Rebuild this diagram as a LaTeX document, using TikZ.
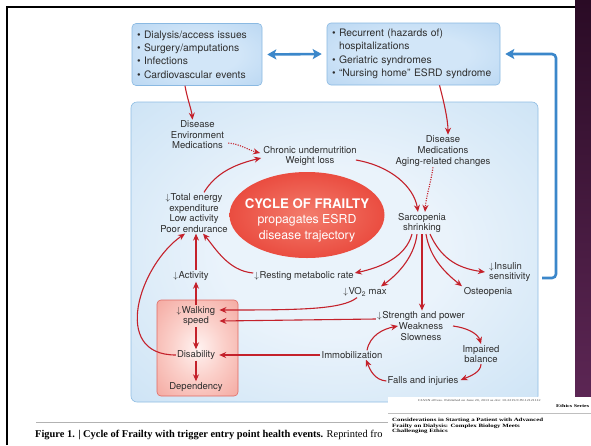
\documentclass[tikz,border=0pt]{standalone}
\usepackage{fontspec}
\setmainfont{TeX Gyre Heros}
\newfontfamily\capfont{Liberation Serif}
\newfontfamily\pagefont[FakeStretch=1.4]{Liberation Serif}
\usepackage{xcolor}
\usetikzlibrary{shapes.geometric,arrows.meta,positioning}

\definecolor{txtgray}{HTML}{2E2E2E}
\definecolor{arrred}{HTML}{C4212B}
\definecolor{arrblue}{HTML}{3B87CA}
\definecolor{topedge}{HTML}{8AB9E2}
\definecolor{mainedge}{HTML}{8FBDE3}
\definecolor{pinkedge}{HTML}{E06A63}
\definecolor{topin}{HTML}{D2E6F8}
\definecolor{topout}{HTML}{A8CCEE}
\definecolor{mainin}{HTML}{EAF3FB}
\definecolor{mainmid}{HTML}{D0E5F6}
\definecolor{mainout}{HTML}{A4CBEC}
\definecolor{redin}{HTML}{F37C6C}
\definecolor{redmid}{HTML}{E9473B}
\definecolor{redout}{HTML}{D21C1D}
\definecolor{pinkin}{HTML}{FFF3F1}
\definecolor{pinkmid}{HTML}{FBD0CA}
\definecolor{pinkout}{HTML}{EF8E84}
\definecolor{slidepurple}{HTML}{2A0B25}
\definecolor{slidepurplelow}{HTML}{5C2654}

\pgfdeclareradialshading{topblue}{\pgfpoint{0bp}{0bp}}{color(0bp)=(topin); color(16bp)=(topin); color(52bp)=(topout)}
\pgfdeclareradialshading{mainblue}{\pgfpoint{0bp}{0bp}}{color(0bp)=(mainin); color(14bp)=(mainin); color(34bp)=(mainmid); color(52bp)=(mainout)}
\pgfdeclareradialshading{redglow}{\pgfpoint{0bp}{0bp}}{color(0bp)=(redin); color(28bp)=(redmid); color(50bp)=(redout)}
\pgfdeclareradialshading{pinkglow}{\pgfpoint{0bp}{0bp}}{color(0bp)=(pinkin); color(16bp)=(pinkmid); color(50bp)=(pinkout)}

\tikzset{
  lbl/.style={align=center, text=txtgray, inner sep=1pt, font=\fontsize{9.5}{10.6}\selectfont},
  bullets/.style={draw=topedge, line width=0.6pt, rounded corners=4pt, shading=topblue, align=left,
    text=txtgray, inner xsep=5pt, minimum height=62pt, font=\fontsize{10.3}{13.4}\selectfont},
  redarr/.style={draw=arrred, line width=1.1pt, -{Stealth[length=7pt,width=6pt]}},
  dotarr/.style={redarr, dash pattern=on 1.1pt off 1.3pt},
  bluearr/.style={draw=arrblue, line width=2.6pt}
}
\newcommand{\decr}{\ensuremath{\downarrow}\kern0.5pt}

\begin{document}
\begin{tikzpicture}[x=1pt, y=-1pt]
  \useasboundingbox (0,0) rectangle (591,445);

  % Slide
  \fill[white] (0,0) rectangle (591,445);
  \fill[top color=slidepurple, bottom color=slidepurplelow] (575,0) rectangle (591,397);
  \draw[black, line width=2.5pt] (7,445) -- (7,7) -- (575,7);

  % Trigger events
  \node[bullets, text width=120pt] (trig) at (197,54.5)
    {• Dialysis/access issues\\• Surgery/amputations\\• Infections\\• Cardiovascular events};
  \node[bullets, text width=163pt] (hosp) at (413.5,54)
    {• Recurrent (hazards of)\\\phantom{• }hospitalizations\\• Geriatric syndromes\\• “Nursing home” ESRD syndrome};

  % Cycle
  \node[draw=mainedge, line width=0.6pt, rounded corners=6pt, shading=mainblue,
    minimum width=407pt, minimum height=300pt] (mainbox) at (334.5,252) {};
  \node[draw=pinkedge, line width=0.6pt, rounded corners=4pt, shading=pinkglow,
    minimum width=81pt, minimum height=96pt] (pinkbox) at (197.5,348) {};
  \node[ellipse, shading=redglow, minimum width=155pt, minimum height=86pt] (frailty) at (307,215) {};
  \node[align=center, text=white, inner sep=0pt, font=\fontsize{12.3}{15.5}\selectfont] (frailtxt) at (307,220)
    {\textbf{\fontsize{13.2}{15.5}\selectfont CYCLE OF FRAILTY}\\propagates ESRD\\disease trajectory};

  \node[lbl] (dis1) at (197.5,135) {Disease\\Environment\\Medications};
  \node[lbl] (chronic) at (310,156) {Chronic undernutrition\\Weight loss};
  \node[lbl] (dis2) at (443,151) {Disease\\Medications\\Aging-related changes};
  \node[lbl] (energy) at (194,213) {\decr Total energy\\expenditure\\Low activity\\Poor endurance};
  \node[lbl] (sarc) at (422,223) {Sarcopenia\\shrinking};
  \node[lbl] (rest) at (304,276) {\decr Resting metabolic rate};
  \node[lbl] (activity) at (191,276) {\decr Activity};
  \node[lbl] (vo2) at (365,292) {\decr VO\textsubscript{2} max};
  \node[lbl] (osteo) at (488,292) {Osteopenia};
  \node[lbl, anchor=west, align=left] (insulin) at (488,272) {\decr Insulin\\sensitivity};
  \node[lbl] (strength) at (421,326) {\decr Strength and power\\Weakness\\Slowness};
  \node[lbl] (balance) at (481,354) {Impaired\\balance};
  \node[lbl] (falls) at (423,381) {Falls and injuries};
  \node[lbl] (immob) at (352,355) {Immobilization};
  \node[lbl] (walking) at (196,316) {\decr Walking\\speed};
  \node[lbl] (disab) at (196,355) {Disability};
  \node[lbl] (depend) at (196,387) {Dependency};

  % Red arrows
  \draw[redarr] ([shift={(-12,0)}]trig.south) .. controls +(2,12) and +(-1,-10) .. ([shift={(-5,0)}]dis1.north);
  \draw[redarr] ([shift={(26,0)}]hosp.south) .. controls +(4,15) and +(0,-15) .. ([shift={(5,0)}]dis2.north);
  \draw[dotarr] ([shift={(3,8)}]dis1.east) .. controls +(12,1) and +(-12,-3) .. ([shift={(-2,-3)}]chronic.west);
  \draw[redarr] ([shift={(10,0)}]energy.north) .. controls +(12,-20) and +(-25,6) .. ([shift={(-1,2)}]chronic.west);
  \draw[redarr] ([shift={(-2,4)}]chronic.east) .. controls +(35,6) and +(-4,-25) .. ([shift={(-4,0)}]sarc.north);
  \draw[dotarr] ([shift={(-10,0)}]dis2.south) .. controls +(-2,15) and +(1,-15) .. ([shift={(3,0)}]sarc.north);

  \draw[redarr] ([shift={(-10,0)}]sarc.south) .. controls +(-6,22) and +(28,-6) .. ([shift={(0,-3)}]rest.east);
  \draw[redarr] ([shift={(-5,0)}]sarc.south) .. controls +(-3,25) and +(14,-10) .. ([shift={(16,0)}]vo2.north);
  \draw[redarr] (sarc.south) -- (sarc.south |- strength.north);
  \draw[redarr] ([shift={(4,0)}]sarc.south) .. controls +(4,25) and +(-15,-12) .. ([shift={(-26,0)}]osteo.north);
  \draw[redarr] ([shift={(8,0)}]sarc.south) .. controls +(10,22) and +(-30,-4) .. ([shift={(-3,0)}]insulin.west);

  \draw[redarr] (walking.north |- activity.north) -- (walking.north |- energy.south);
  \draw[redarr] ([shift={(0,-3)}]rest.west) .. controls +(-25,-2) and +(12,14) .. ([shift={(9,0)}]energy.south);
  \draw[redarr] (disab.west) .. controls +(-66,0) and +(-45,31) .. ([shift={(-9,0)}]energy.south);
  \draw[redarr] (walking.north) -- (walking.north |- activity.south);
  \draw[redarr] (walking.south) -- (disab.north);
  \draw[redarr] (disab.south) -- (depend.north);

  \draw[redarr] ([shift={(-8,0)}]vo2.south) .. controls +(-15,12) and +(80,0) .. ([shift={(3,-6)}]walking.east);
  \draw[redarr] ([shift={(0,-7)}]strength.west) -- ([shift={(3,5)}]walking.east);
  \draw[redarr] (immob.west) -- ([shift={(3,0)}]disab.east);

  \draw[redarr] ([shift={(-13,0)}]strength.east) .. controls +(15,2) and +(-3,-10) .. (balance.north);
  \draw[redarr] (balance.south) .. controls +(0,8) and +(10,-4) .. ([shift={(1,-1)}]falls.east);
  \draw[redarr] (falls.west) .. controls +(-12,-1) and +(4,10) .. ([shift={(14,0)}]immob.south);
  \draw[redarr] ([shift={(15,0)}]immob.north) .. controls +(3,-15) and +(-15,3) .. ([shift={(22,0)}]strength.west);

  % Blue arrows
  \draw[bluearr, {Stealth[length=9pt,width=10pt,inset=2pt]}-{Stealth[length=9pt,width=10pt,inset=2pt]}]
    ([shift={(5,0)}]trig.east) -- ([shift={(-5,0)}]hosp.west);
  \coordinate (hook) at (542,278);
  \draw[bluearr, rounded corners=4pt, -{Stealth[length=9pt,width=10pt,inset=2pt]}]
    (hook) -- ++(14,0) |- ([shift={(5,0)}]hosp.east);

  % Caption
  \draw[gray!60, line width=0.8pt] (36,422) -- (388,422);
  \node[anchor=base west, inner sep=0pt, font=\capfont\fontsize{10.4}{12}\selectfont] (caption) at (35,437)
    {\textbf{Figure 1. | Cycle of Frailty with trigger entry point health events.} Reprinted fro};

  % Page on top
  \fill[white] (388,397) rectangle (591,445);
  \node[anchor=west, inner sep=0pt, text=black!75, font=\pagefont\fontsize{2.9}{3}\selectfont] (doi) at (418,401)
    {CJASN ePress. Published on June 20, 2013 as doi: 10.2215/CJN.12121112};
  \node[anchor=west, inner sep=0pt, font=\pagefont\bfseries\fontsize{4.3}{5}\selectfont] (series) at (556,406) {Ethics Series};
  \draw[gray!50, line width=0.5pt] (388,413) -- (591,413);
  \node[anchor=north west, inner sep=0pt, align=left, font=\pagefont\bfseries\fontsize{4.9}{5.4}\selectfont] (paper) at (392,418)
    {Considerations in Starting a Patient with Advanced\\Frailty on Dialysis: Complex Biology Meets\\Challenging Ethics};
\end{tikzpicture}
\end{document}
